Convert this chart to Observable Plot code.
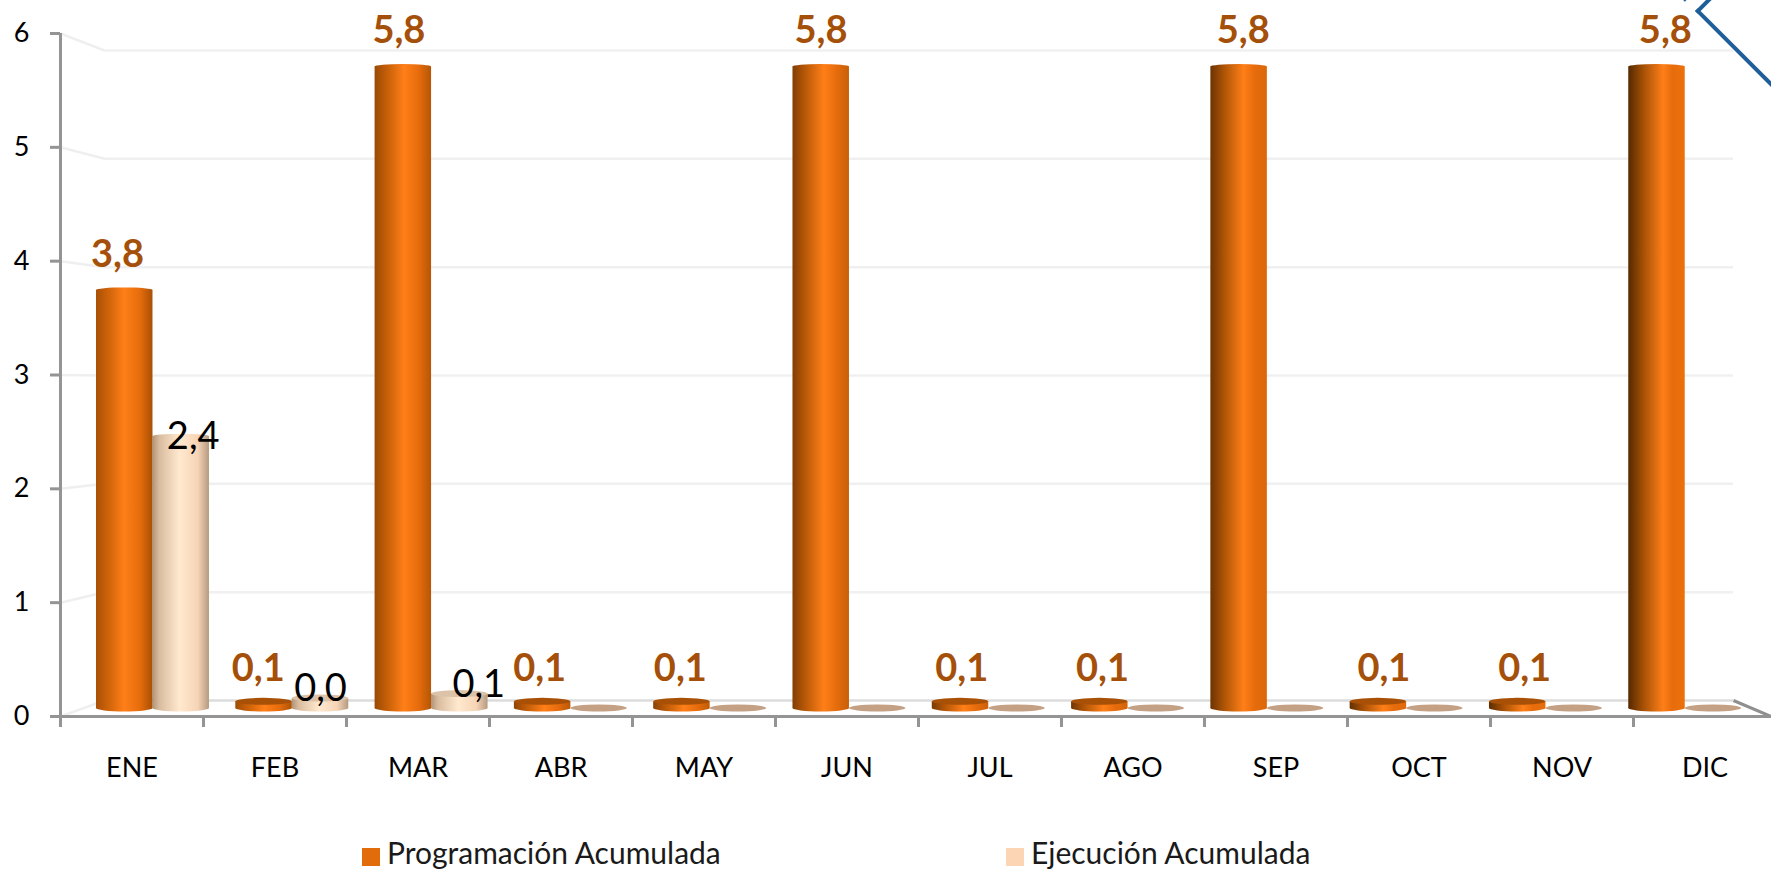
<!DOCTYPE html>
<html lang="es">
<head>
<meta charset="utf-8">
<script src="https://cdn.jsdelivr.net/npm/d3@7"></script>
<script src="https://cdn.jsdelivr.net/npm/@observablehq/plot@0.6"></script>
<style>
  html, body { margin: 0; padding: 0; background: #fff; overflow: hidden; width: 1771px; height: 871px; font-family: Lato, sans-serif; }
  #chart svg { display: block; }
  #legend { position: relative; height: 36px; font-size: 30px; line-height: 30px; color: #1a1a1a; white-space: nowrap; }
  #legend span { position: absolute; top: 2px; }
  #legend i { position: absolute; top: 13px; width: 18px; height: 18px; }
  #chevron { position: absolute; left: 1695px; top: 11px; width: 130px; height: 130px; box-sizing: border-box;
             border-top: 4px solid #1f5f99; border-left: 4px solid #1f5f99; transform-origin: 0 0; transform: rotate(-45deg); }
  #chevron2 { position: absolute; left: 1676px; top: -6px; width: 12px; height: 4px; background: #1f5f99; transform: rotate(45deg); }
</style>
</head>
<body>
<div id="chart"></div>
<div id="legend">
  <i style="left:362px;background:#e36c0a"></i><span style="left:387px">Programación Acumulada</span>
  <i style="left:1006px;background:#fcd5b5"></i><span style="left:1031px">Ejecución Acumulada</span>
</div>
<div id="chevron"></div>
<div id="chevron2"></div>
<script>
const months = ["ENE","FEB","MAR","ABR","MAY","JUN","JUL","AGO","SEP","OCT","NOV","DIC"];
const programacion = [3.78,0.06,5.8,0.06,0.06,5.8,0.06,0.06,5.8,0.06,0.06,5.8];
const ejecucion = [2.46,0.09,0.13,0,0,0,0,0,0,0,0,0];
const programacionLabels = ["3,8","0,1","5,8","0,1","0,1","5,8","0,1","0,1","5,8","0,1","0,1","5,8"];
const ejecucionLabels = ["2,4","0,0","0,1"];
const yTicks = [0,1,2,3,4,5,6];

// The 3-D look of the source: bars and back wall are foreshortened against the axes.
const barY = v => 0.0703 + 0.9716 * v;
const wallY = v => 0.1406 + 0.9517 * v;
const barX = i => 0.2517 + 0.9741 * i;
const labelX = i => 0.3986 + 0.984 * i;
const barW = 0.395;
const xMax = 11.965, wallX0 = 0.3077, wallX1 = 11.699;
const ryU = px => px / 113.83;

const orange = programacion.map((v, i) => ({i, v, label: programacionLabels[i], x1: barX(i), x2: barX(i) + barW}));
const peach = ejecucion.map((v, i) => ({i, v, label: ejecucionLabels[i], x1: barX(i) + barW, x2: barX(i) + 2 * barW}));

// Cylinder shading
const defs = () => {
  const d = d3.create("svg:defs");
  const add = (id, stops) => {
    const g = d.append("linearGradient").attr("id", id);
    stops.forEach(([o, c]) => g.append("stop").attr("offset", o).attr("stop-color", c));
  };
  const left = d3.interpolateRgb("#a85006", "#552900");
  const right = d3.interpolateRgb("#a85005", "#ee700c");
  months.forEach((m, i) => {
    const t = i / 11;
    add("o" + i, [[0, left(t)], [0.25, d3.interpolateRgb("#d4660a", "#a14e05")(t)], [0.5 + 0.12 * t, "#ff7f18"], [0.78, "#e66c0c"], [1, right(t)]]);
  });
  add("p", [[0, "#b09478"], [0.12, "#d9bc9f"], [0.48, "#ffe9cf"], [0.8, "#f7d4b6"], [1, "#b59a80"]]);
  return d.node();
};
const fillO = d => `url(#o${d.i})`;

const tall = d => d.v >= 0.5;
const chart = Plot.plot({
  width: 1771, height: 835,
  marginTop: 33, marginBottom: 119, marginLeft: 60, marginRight: 0,
  style: {fontFamily: "Lato, sans-serif", background: "#fff", color: "#000"},
  x: {domain: [0, xMax], axis: null},
  y: {domain: [0, 6], axis: null},
  color: {type: "identity"},
  marks: [
    defs,
    // back wall grid and its perspective links to the axis
    Plot.ruleY(yTicks.slice(1), {y: wallY, x1: wallX0, x2: wallX1, stroke: "#f0f0f0", strokeWidth: 2.5}),
    Plot.ruleY([0], {y: wallY, x1: wallX0, x2: wallX1, stroke: "#dcdcdc", strokeWidth: 2.5}),
    Plot.link(yTicks, {x1: 0, y1: v => v, x2: wallX0, y2: wallY, stroke: "#efefef", strokeWidth: 2.5}),
    Plot.link([0], {x1: wallX1, y1: wallY, x2: xMax, y2: v => v, stroke: "#8f8f8f", strokeWidth: 3}),
    // axes
    Plot.ruleX([0], {y1: 0, y2: 6, stroke: "#949494", strokeWidth: 3}),
    Plot.ruleY([0], {x1: 0, x2: xMax, stroke: "#949494", strokeWidth: 3}),
    Plot.axisY({ticks: yTicks, tickFormat: "d", tickSize: 10, tickPadding: 21, fontSize: 27, stroke: "#949494", strokeWidth: 3, label: null, fill: "#000"}),
    Plot.axisX({ticks: d3.range(12), tickSize: 11, tickFormat: () => "", stroke: "#949494", strokeWidth: 3, label: null}),
    Plot.axisX({ticks: months.map((m, i) => i + 0.5), tickSize: 0, tickPadding: 41, fontSize: 27, tickFormat: v => months[Math.floor(v)], label: null, fill: "#000"}),
    // peach series
    Plot.rect(peach.filter(d => d.v > 0), {x1: "x1", x2: "x2", y1: d => barY(d.v), y2: d => barY(0), fill: "url(#p)"}),
    Plot.rect(peach.filter(d => d.v > 0), {x1: "x1", x2: "x2", y1: d => barY(0) - ryU(3.5), y2: d => barY(0) + ryU(3.5), rx: 29, ry: 3.5, fill: "url(#p)"}),
    Plot.rect(peach.filter(d => d.v > 0 && d.v < 0.5), {x1: "x1", x2: "x2", y1: d => barY(d.v) - ryU(3.5), y2: d => barY(d.v) + ryU(3.5), rx: 29, ry: 3.5, fill: "#dcc2a8"}),
    Plot.rect(peach.filter(d => d.v >= 0.5), {x1: "x1", x2: "x2", y1: d => barY(d.v) - ryU(2), y2: d => barY(d.v) + ryU(2), rx: 29, ry: 2, fill: "url(#p)"}),
    Plot.rect(peach.filter(d => d.v === 0), {x1: "x1", x2: "x2", y1: d => barY(0) - ryU(3.5), y2: d => barY(0) + ryU(3.5), rx: 29, ry: 3.5, fill: "#c4a084"}),
    // orange series
    Plot.rect(orange, {x1: "x1", x2: "x2", y1: d => barY(d.v), y2: d => barY(0), fill: fillO}),
    Plot.rect(orange, {x1: "x1", x2: "x2", y1: d => barY(0) - ryU(3.5), y2: d => barY(0) + ryU(3.5), rx: 29, ry: 3.5, fill: fillO}),
    Plot.rect(orange.filter(tall), {x1: "x1", x2: "x2", y1: d => barY(d.v) - ryU(2.5), y2: d => barY(d.v) + ryU(2.5), rx: 29, ry: 2.5, fill: fillO}),
    Plot.rect(orange.filter(d => !tall(d)), {x1: "x1", x2: "x2", y1: d => barY(d.v) - ryU(3.5), y2: d => barY(d.v) + ryU(3.5), rx: 29, ry: 3.5, fill: "#a85006"}),
    // value labels
    Plot.text(orange.filter(tall), {x: d => labelX(d.i), y: d => barY(d.v), text: "label", dy: -36, fontSize: 38, fontWeight: 700, fill: "#a5500a"}),
    Plot.text(orange.filter(d => !tall(d)), {x: d => labelX(d.i), y: d => barY(d.v), text: "label", dy: -33, fontSize: 38, fontWeight: 700, fill: "#a5500a"}),
    Plot.text(peach.slice(0, 1), {x: d => (d.x1 + d.x2) / 2, y: d => barY(d.v), text: "label", dx: 12, fontSize: 38, fill: "#000"}),
    Plot.text(peach.slice(1, 2), {x: d => (d.x1 + d.x2) / 2, y: d => barY(d.v), text: "label", dy: -10, fontSize: 38, fill: "#000"}),
    Plot.text(peach.slice(2, 3), {x: d => (d.x1 + d.x2) / 2, y: d => barY(d.v), text: "label", dx: 19, dy: -9, fontSize: 38, fill: "#000"})
  ]
});
document.getElementById("chart").append(chart);
</script>
</body>
</html>
